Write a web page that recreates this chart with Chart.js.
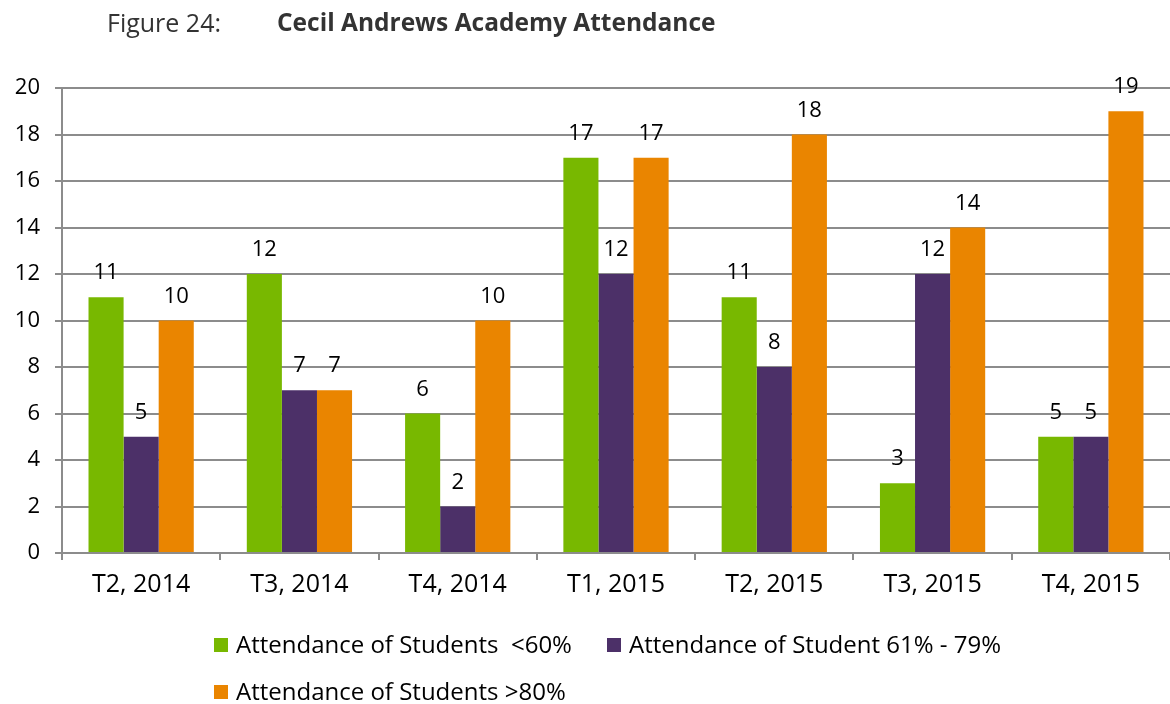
<!DOCTYPE html>
<html>
<head>
    <meta charset="UTF-8">
    <title>Cecil Andrews Academy Attendance</title>
    <script src="https://cdn.jsdelivr.net/npm/chart.js@4.4.1/dist/chart.umd.min.js"></script>
    <style>
        body { margin: 0; background: #fff; font-family: "Open Sans", sans-serif; }
        #wrap { position: relative; width: 1170px; height: 704px; }
        #title { position: absolute; top: 5px; left: 107px; font-size: 25px; line-height: 34px; color: #333; white-space: nowrap; }
        #title b { position: absolute; left: 170px; font-size: 24.5px; }
        #legend { position: absolute; left: 214px; top: 626px; width: 900px; font-size: 24px; color: #000; }
        .item { position: absolute; white-space: pre; line-height: 36px; }
        .box { display: inline-block; width: 14px; height: 14px; margin-right: 8px; vertical-align: 1px; }
    </style>
</head>
<body>
<div id="wrap">
    <div id="title">Figure 24:<b>Cecil Andrews Academy Attendance</b></div>
    <canvas id="chart" width="1170" height="704"></canvas>
    <div id="legend"></div>
</div>
<script>
    // values
    var terms = ['T2, 2014', 'T3, 2014', 'T4, 2014', 'T1, 2015', 'T2, 2015', 'T3, 2015', 'T4, 2015'];
    var below60 = [11, 12, 6, 17, 11, 3, 5];
    var from61to79 = [5, 7, 2, 12, 8, 12, 5];
    var above80 = [10, 7, 10, 17, 18, 14, 19];

    var seriesNames = ['Attendance of Students  <60%', 'Attendance of Student 61% - 79%', 'Attendance of Students >80%'];
    var seriesColors = ['#78b800', '#4c3068', '#ea8500'];

    // labels above each bar
    var barLabels = {
        id: 'barLabels',
        afterDatasetsDraw: function (chart) {
            var ctx = chart.ctx;
            ctx.save();
            ctx.font = '22px "Open Sans"';
            ctx.fillStyle = '#000';
            ctx.textAlign = 'center';
            ctx.textBaseline = 'alphabetic';
            chart.data.datasets.forEach(function (ds, i) {
                chart.getDatasetMeta(i).data.forEach(function (bar, j) {
                    ctx.fillText(ds.data[j], bar.x, bar.y - 18);
                });
            });
            ctx.restore();
        }
    };

    var gridColor = '#8c8c8c';
    var chart = new Chart(document.getElementById('chart'), {
        type: 'bar',
        data: {
            labels: terms,
            datasets: [below60, from61to79, above80].map(function (vals, i) {
                return {
                    label: seriesNames[i],
                    data: vals,
                    backgroundColor: seriesColors[i],
                    categoryPercentage: 0.665,
                    barPercentage: 1
                };
            })
        },
        options: {
            responsive: false,
            animation: false,
            layout: { padding: { top: 88, bottom: 101, right: 0, left: 0 } },
            plugins: {
                legend: { display: false },
                tooltip: { enabled: false }
            },
            scales: {
                x: {
                    grid: { display: true, drawOnChartArea: false, drawTicks: true, tickLength: 7, color: gridColor, lineWidth: 2 },
                    border: { color: gridColor, width: 2 },
                    ticks: { font: { family: 'Open Sans', size: 25 }, color: '#000', padding: 10 },
                    afterFit: function (s) { s.height = 50; }
                },
                y: {
                    min: 0,
                    max: 20,
                    grid: { color: gridColor, lineWidth: 2, tickLength: 7 },
                    border: { color: gridColor, width: 2 },
                    ticks: { stepSize: 2, font: { family: 'Open Sans', size: 22 }, color: '#000', padding: 15 },
                    afterFit: function (s) { s.width = 62; }
                }
            }
        },
        plugins: [barLabels]
    });

    // legend laid out like the original: two on the first row, one below
    var legendPos = [[0, 0], [393, 0], [0, 47]];
    var legend = document.getElementById('legend');
    chart.data.datasets.forEach(function (ds, i) {
        var item = document.createElement('div');
        item.className = 'item';
        item.style.left = legendPos[i][0] + 'px';
        item.style.top = legendPos[i][1] + 'px';
        item.innerHTML = '<span class="box" style="background:' + ds.backgroundColor + '"></span>';
        item.appendChild(document.createTextNode(ds.label));
        legend.appendChild(item);
    });
</script>
</body>
</html>
